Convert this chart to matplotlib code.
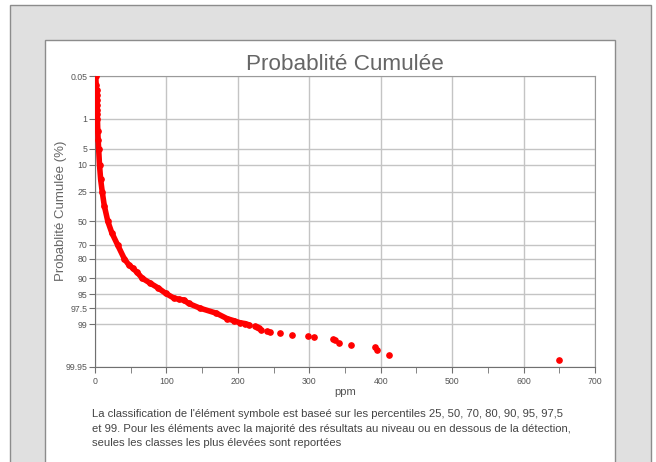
import numpy as np
import matplotlib
matplotlib.use("Agg")
import matplotlib.pyplot as plt
from matplotlib.patches import Rectangle
from statistics import NormalDist

plt.rcParams['font.family'] = ['Liberation Sans', 'DejaVu Sans']

# cumulative curve, dense part (ppm, cumulative %)
body_ppm = [1.0, 1.6, 2.1, 2.4, 2.6, 2.7, 2.9, 3.1, 3.4, 3.9, 4.4, 5.1, 6.3, 7.9,
            10.1, 13, 18, 23.5, 31.5, 41, 47, 53, 59, 66, 77, 88, 99, 110, 118,
            124, 131, 147, 170, 185, 194, 203, 210, 215]
body_pct = [0.05, 0.10, 0.15, 0.21, 0.30, 0.42, 0.58, 0.75, 1.0, 2.0, 3.2, 5.0, 10,
            17, 25, 36, 50, 60, 70, 80, 83.5, 85.5, 87.5, 90, 91.8, 93.3, 94.8,
            95.8, 96.1, 96.2, 96.8, 97.5, 98.1, 98.6, 98.75, 98.9, 98.95, 99.02]

# upper tail, single samples
tail_ppm = [223.5, 227, 230, 232, 241, 244.5, 259.5, 276, 297.5, 306.5, 332.5,
            336.5, 342, 358.5, 392, 394.5, 411.5, 649.5]
tail_pct = [99.07, 99.14, 99.21, 99.28, 99.33, 99.39, 99.43, 99.48, 99.51, 99.56,
            99.60, 99.64, 99.69, 99.73, 99.78, 99.82, 99.87, 99.91]

yticks = [0.05, 1, 5, 10, 25, 50, 70, 80, 90, 95, 97.5, 99, 99.95]
ylabels = ['0.05', '1', '5', '10', '25', '50', '70', '80', '90', '95', '97.5', '99', '99.95']

note = ("La classification de l'élément symbole est baseé sur les percentiles 25, 50, 70, 80, 90, 95, 97,5\n"
        "et 99. Pour les éléments avec la majorité des résultats au niveau ou en dessous de la détection,\n"
        "seules les classes les plus élevées sont reportées")

nd = NormalDist()
_ppf = np.vectorize(lambda p: nd.inv_cdf(p), otypes=[float])
_cdf = np.vectorize(lambda z: nd.cdf(z), otypes=[float])


def to_z(p):
    p = np.clip(np.asarray(p, dtype=float) / 100.0, 1e-9, 1 - 1e-9)
    return _ppf(p)


def from_z(z):
    return _cdf(np.asarray(z, dtype=float)) * 100.0


W, H = 656, 462
fig = plt.figure(figsize=(W / 100, H / 100), dpi=100)
fig.patch.set_facecolor('white')

# grey frame and white panel (behind the axes)
fig.patches.append(Rectangle((10 / W, -0.1), 641 / W, (H - 5) / H + 0.1,
                             transform=fig.transFigure, facecolor='#e0e0e0',
                             edgecolor='#8c8c8c', lw=1, zorder=-2))
fig.patches.append(Rectangle((45 / W, -0.1), 570 / W, (H - 40) / H + 0.1,
                             transform=fig.transFigure, facecolor='white',
                             edgecolor='#8c8c8c', lw=1, zorder=-1))

ax = fig.add_axes([95 / W, (H - 367) / H, 500 / W, 291 / H])
ax.set_facecolor('white')
ax.set_yscale('function', functions=(to_z, from_z))

ax.plot(body_ppm, body_pct, color='#ff0000', lw=4, solid_capstyle='round', zorder=3)
ax.plot(body_ppm, body_pct, 'o', color='#ff0000', ms=3.8, zorder=3)
ax.plot(tail_ppm, tail_pct, 'o', color='#ff0000', ms=3.8, lw=0, zorder=3)

ax.set_xlim(0, 700)
ax.set_ylim(99.95, 0.05)
ax.set_xticks(range(0, 701, 100))
ax.set_xticks(range(50, 701, 100), minor=True)
ax.set_yticks(yticks)
ax.set_yticklabels(ylabels)
ax.yaxis.set_minor_locator(matplotlib.ticker.NullLocator())

ax.grid(True, which='major', color='#c4c4c4', lw=1)
ax.set_axisbelow(True)
for s in ax.spines.values():
    s.set_color('#9a9a9a')
ax.spines['left'].set_color('#707070')
ax.spines['bottom'].set_color('#707070')
ax.tick_params(axis='both', which='both', direction='out', length=4,
               color='#707070', labelsize=6.3, labelcolor='#555555', pad=1.5)
ax.tick_params(axis='x', pad=3)
narrow = ['Liberation Sans Narrow', 'Liberation Sans', 'DejaVu Sans']
for lbl in ax.get_xticklabels() + ax.get_yticklabels():
    lbl.set_family(narrow)

ax.set_title("Probablité Cumulée", fontsize=16.2, color='#666666', pad=4)
ax.set_ylabel("Probablité Cumulée (%)", fontsize=9.5, color='#666666')
ax.yaxis.set_label_coords(-0.056, 0.536)
ax.set_xlabel("ppm", fontsize=8, color='#555555', labelpad=1)

fig.text(92 / W, 1 - 409 / H, note, fontsize=8.1, color='#444444',
         va='top', ha='left', linespacing=1.58)

fig.savefig('out.png', dpi=100)
